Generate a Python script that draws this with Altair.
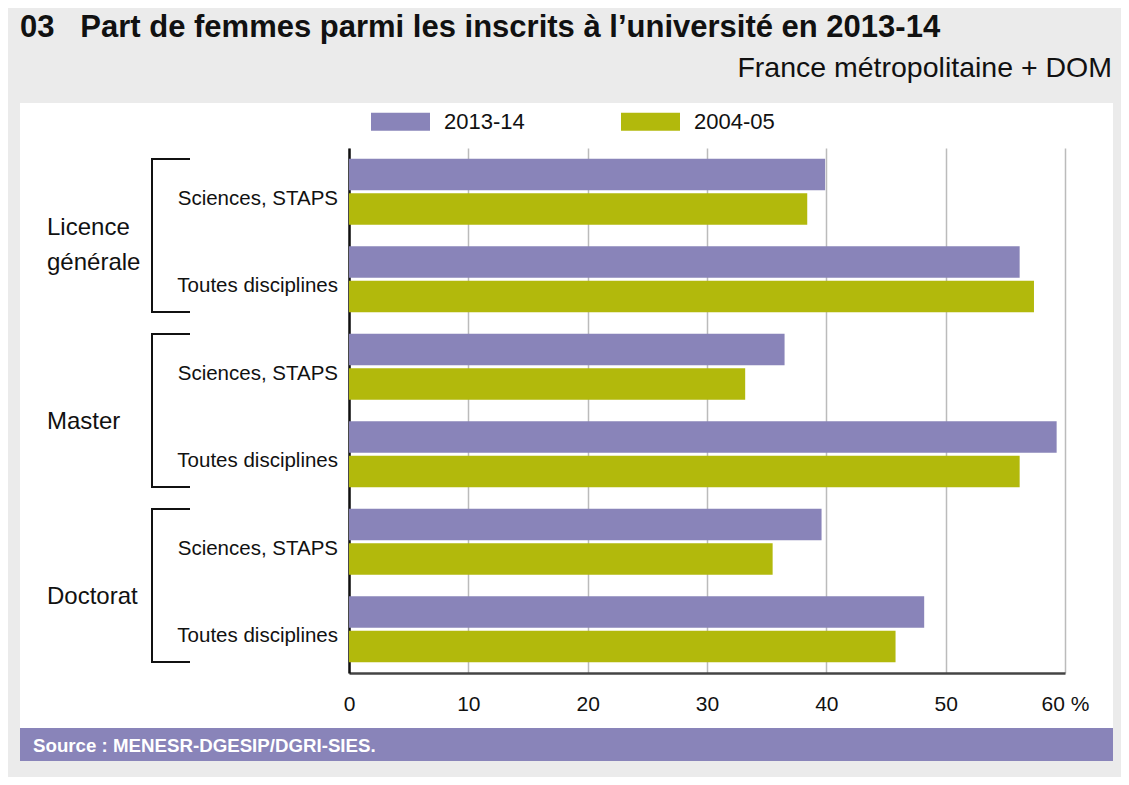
import altair as alt
import pandas as pd

FONT = "Liberation Sans, Arial, Helvetica, sans-serif"

groups = ["Licence générale", "Master", "Doctorat"]
group_lines = [["Licence", "générale"], ["Master"], ["Doctorat"]]
subcats = ["Sciences, STAPS", "Toutes disciplines"]
series = ["2013-14", "2004-05"]
colors = ["#8984B9", "#B2B90C"]
v_2013 = [39.9, 56.2, 36.5, 59.3, 39.6, 48.2]
v_2004 = [38.4, 57.4, 33.2, 56.2, 35.5, 45.8]
x_ticks = [0, 10, 20, 30, 40, 50, 60]
title = "03\u00a0\u00a0\u00a0Part de femmes parmi les inscrits à l’université en 2013-14"
subtitle = "France métropolitaine + DOM"
source = "Source : MENESR-DGESIP/DGRI-SIES."

# ---- tables built from the arrays ----
row_order = [f"{g}|{s}" for g in groups for s in subcats]
recs = []
i = 0
for g in groups:
    for s in subcats:
        recs.append({"row": f"{g}|{s}", "sub": s, "series": series[0], "value": v_2013[i]})
        recs.append({"row": f"{g}|{s}", "sub": s, "series": series[1], "value": v_2004[i]})
        i += 1
df = pd.DataFrame(recs)
df_rows = pd.DataFrame({"row": row_order, "sub": [s for g in groups for s in subcats]})
df_groups = pd.DataFrame({"group": groups, "lines": group_lines,
                          "nlines": [len(l) for l in group_lines]})
one = pd.DataFrame({"k": [0]})

W, H = 716, 525
GRAY = "#EBEBEB"

# ---- decoration: gray frame around a white panel, title, source band ----
def gray_rect(x, x2, y, y2):
    return alt.Chart(one).mark_rect(color=GRAY).encode(
        x=alt.value(x), x2=alt.value(x2), y=alt.value(y), y2=alt.value(y2))

frame = [
    gray_rect(-341, 772, -140, -45),   # top
    gray_rect(-341, -329, -45, 629),   # left
    gray_rect(764, 772, -45, 629),     # right
    gray_rect(-341, 772, 613, 629),    # bottom
]
band = alt.Chart(one).mark_rect(color="#8984B9").encode(
    x=alt.value(-329), x2=alt.value(764), y=alt.value(580), y2=alt.value(613))
src = alt.Chart(one).mark_text(align="left", baseline="alphabetic", font=FONT, fontSize=18.7,
                               fontWeight="bold", color="white").encode(
    x=alt.value(-316), y=alt.value(604), text=alt.value(source))
ttl = alt.Chart(one).mark_text(align="left", baseline="alphabetic", font=FONT, fontSize=31,
                               fontWeight="bold", color="#111111").encode(
    x=alt.value(-329), y=alt.value(-111), text=alt.value(title))
sub = alt.Chart(one).mark_text(align="right", baseline="alphabetic", font=FONT, fontSize=28.5,
                               color="#111111").encode(
    x=alt.value(763), y=alt.value(-71), text=alt.value(subtitle))

# ---- bars & row labels (shared row scale) ----
yrow = alt.Y("row:N", sort=row_order, title=None,
             scale=alt.Scale(type="band", paddingInner=0.245, paddingOuter=0.122),
             axis=alt.Axis(labels=False, ticks=False, grid=False, domain=True,
                           domainColor="#111111", domainWidth=2.5, title=None))

bars = alt.Chart(df).mark_bar().encode(
    x=alt.X("value:Q", title=None,
            scale=alt.Scale(domain=[0, 60], nice=False),
            axis=alt.Axis(values=x_ticks, grid=True, gridColor="#BBBBBB", gridWidth=1.5,
                          domainColor="#444444", domainWidth=2.5, ticks=False,
                          labelPadding=20, labelFontSize=21, labelFont=FONT,
                          labelColor="#111111", labelFlush=False,
                          labelExpr="datum.value == 60 ? '60 %' : datum.label")),
    y=yrow,
    yOffset=alt.YOffset("series:N", sort=series, scale=alt.Scale(paddingInner=0.09)),
    color=alt.Color("series:N", sort=series,
                    scale=alt.Scale(domain=series, range=colors),
                    legend=alt.Legend(orient="none", legendX=22, legendY=-56,
                                      direction="horizontal", title=None,
                                      symbolType="M-1,-0.305L1,-0.305L1,0.305L-1,0.305Z",
                                      symbolSize=3481, symbolStrokeWidth=0,
                                      symbolOpacity=1, labelFont=FONT, labelFontSize=22,
                                      labelColor="#111111", labelOffset=14,
                                      columnPadding=96)),
)

row_labels = alt.Chart(df_rows).mark_text(align="right", baseline="middle", font=FONT,
                                          fontSize=20.5, color="#111111", dy=7).encode(
    y=yrow, x=alt.value(-11), text="sub:N")

main = alt.layer(bars, row_labels)

# ---- group brackets & labels (own band scale) ----
gscale = alt.Scale(type="band", paddingInner=0.125, paddingOuter=0.0625)

def gy(bp=0.5):
    return alt.Y("group:N", sort=groups, scale=gscale, axis=None, bandPosition=bp)

vbar = alt.Chart(df_groups).mark_bar(color="#111111").encode(
    y=alt.Y("group:N", sort=groups, scale=gscale, axis=None),
    x=alt.value(-198), x2=alt.value(-196))
ttop = alt.Chart(df_groups).mark_rule(color="#111111", strokeWidth=2).encode(
    y=gy(0), x=alt.value(-198), x2=alt.value(-159))
tbot = alt.Chart(df_groups).mark_rule(color="#111111", strokeWidth=2).encode(
    y=gy(1), x=alt.value(-198), x2=alt.value(-159))
glabels1 = alt.Chart(df_groups).transform_filter("datum.nlines == 1").mark_text(
    align="left", baseline="middle", font=FONT, fontSize=24, color="#111111", dy=11).encode(
    y=gy(0.5), x=alt.value(-302), text="lines")
glabels2 = alt.Chart(df_groups).transform_filter("datum.nlines > 1").mark_text(
    align="left", baseline="middle", font=FONT, fontSize=24, color="#111111",
    lineHeight=35, dy=-8).encode(
    y=gy(0.5), x=alt.value(-302), text="lines")

grp = alt.layer(vbar, ttop, tbot, glabels1, glabels2)

chart = alt.layer(*frame, band, src, ttl, sub, main, grp).resolve_scale(
    y="independent"
).properties(
    width=W, height=H,
    autosize=alt.AutoSizeParams(type="none"),
    padding={"left": 341, "top": 140, "right": 56, "bottom": 104},
    background="white",
).configure_view(stroke=None)

chart.save("out.html", embed_options={"renderer": "svg", "actions": False})
